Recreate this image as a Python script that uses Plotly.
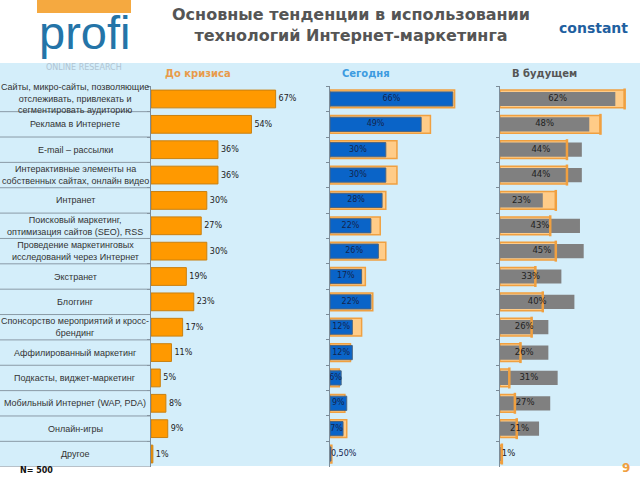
import plotly.graph_objects as go

categories = [
    "Сайты, микро-сайты, позволяющие<br>отслеживать, привлекать и<br>сегментировать аудиторию",
    "Реклама в Интернете",
    "E-mail – рассылки",
    "Интерактивные элементы на<br>собственных сайтах, онлайн видео",
    "Интранет",
    "Поисковый маркетинг,<br>оптимизация сайтов (SEO), RSS",
    "Проведение маркетинговых<br>исследований через Интернет",
    "Экстранет",
    "Блоггинг",
    "Спонсорство мероприятий и кросс-<br>брендинг",
    "Аффилированный маркетинг",
    "Подкасты, виджет-маркетинг",
    "Мобильный Интернет (WAP, PDA)",
    "Онлайн-игры",
    "Другое",
]
before_crisis = [67, 54, 36, 36, 30, 27, 30, 19, 23, 17, 11, 5, 8, 9, 1]
today = [66, 49, 30, 30, 28, 22, 26, 17, 22, 12, 12, 6, 9, 7, 0.5]
today_labels = ["66%", "49%", "30%", "30%", "28%", "22%", "26%", "17%", "22%",
                "12%", "12%", "6%", "9%", "7%", "0,50%"]
future = [62, 48, 44, 44, 23, 43, 45, 33, 40, 26, 26, 31, 27, 21, 1]

panel_titles = ["До кризиса", "Сегодня", "В будущем"]

W, H = 640, 480
ORANGE = "#FF9900"
LIGHT_OR = "#FFCC88"
OR_LINE = "#F0A040"
BLUE = "#0A64C8"
GRAY = "#808080"
N = len(categories)

fig = go.Figure()

# panel 1
fig.add_trace(go.Bar(
    y=categories, x=before_crisis, orientation="h", width=0.7,
    marker=dict(color=ORANGE, line=dict(color="#C98010", width=1)),
    text=[f"{v}%" for v in before_crisis], textposition="outside",
    textfont=dict(family="DejaVu Sans", size=8, color="#222"),
    cliponaxis=False, xaxis="x", yaxis="y", hoverinfo="skip"))

# panel 2
fig.add_trace(go.Bar(
    y=categories, x=before_crisis, orientation="h", width=0.7,
    marker=dict(color=LIGHT_OR, line=dict(color=OR_LINE, width=1.5)),
    xaxis="x2", yaxis="y2", hoverinfo="skip"))
fig.add_trace(go.Bar(
    y=categories, x=today, orientation="h", width=0.56,
    marker=dict(color=BLUE, line=dict(color="#4A6480", width=1)),
    xaxis="x2", yaxis="y2", hoverinfo="skip"))
fig.add_trace(go.Scatter(
    y=categories, x=[v if v < 3 else v / 2 for v in today], mode="text",
    text=today_labels,
    textposition=["middle right" if v < 3 else "middle center" for v in today],
    textfont=dict(family="DejaVu Sans", size=8, color="#13254F"),
    cliponaxis=False, xaxis="x2", yaxis="y2", hoverinfo="skip"))

# panel 3
fig.add_trace(go.Bar(
    y=categories, x=before_crisis, orientation="h", width=0.7,
    marker=dict(color=LIGHT_OR, line=dict(color=OR_LINE, width=1.5)),
    xaxis="x3", yaxis="y3", hoverinfo="skip"))
fig.add_trace(go.Bar(
    y=categories, x=future, orientation="h", width=0.56,
    marker=dict(color=GRAY, line=dict(width=0)),
    xaxis="x3", yaxis="y3", hoverinfo="skip"))
fig.add_trace(go.Scatter(
    y=categories, x=before_crisis, mode="markers",
    marker=dict(symbol="line-ns", size=15, line=dict(color=OR_LINE, width=2.5)),
    cliponaxis=False, xaxis="x3", yaxis="y3", hoverinfo="skip"))
fig.add_trace(go.Scatter(
    y=categories, x=[v if v < 3 else v / 2 for v in future], mode="text",
    text=[f"{v}%" for v in future],
    textposition=["middle right" if v < 3 else "middle center" for v in future],
    textfont=dict(family="DejaVu Sans", size=8.5, color="#222"),
    cliponaxis=False, xaxis="x3", yaxis="y3", hoverinfo="skip"))

y_top = 1 - 86.3 / H
y_bot = 1 - 466.7 / H
px_per = 1.86

def xax(x0, x1):
    return dict(domain=[x0 / W, x1 / W], range=[0, (x1 - x0) / px_per],
                visible=False, fixedrange=True)

def yax(anchor):
    return dict(domain=[y_bot, y_top], type="category", categoryarray=categories,
                categoryorder="array", range=[N - 0.5, -0.5], anchor=anchor,
                showticklabels=False,
                showline=True, linecolor="#7C8C98", linewidth=1,
                ticks="outside", ticklen=3, tickcolor="#7C8C98",
                tickson="boundaries", showgrid=False, zeroline=False,
                fixedrange=True)

fig.update_layout(
    width=W, height=H, margin=dict(l=0, r=0, t=0, b=0),
    paper_bgcolor="white", plot_bgcolor="rgba(0,0,0,0)",
    barmode="overlay", showlegend=False, bargap=0.3,
    xaxis=xax(151, 320), xaxis2=xax(330, 490), xaxis3=xax(500, 640),
    yaxis=yax("x"), yaxis2=yax("x2"), yaxis3=yax("x3"),
)

shapes = [
    dict(type="rect", xref="paper", yref="paper", x0=0, x1=1,
         y0=1 - 466 / H, y1=1 - 63 / H, fillcolor="#D4EEFA", line=dict(width=0),
         layer="below"),
    dict(type="rect", xref="paper", yref="paper", x0=37 / W, x1=131 / W,
         y0=1 - 13 / H, y1=1, fillcolor="#F5A940", line=dict(width=0)),
]
for i in range(N):
    shapes.append(dict(type="line", xref="paper", yref="y", x0=0, x1=150 / W,
                       y0=i + 0.5, y1=i + 0.5, line=dict(color="#8A9AA6", width=1)))
fig.update_layout(shapes=shapes)

ann = []
for c in categories:
    ann.append(dict(xref="paper", yref="y", x=75 / W, y=c, text=c, showarrow=False,
                    font=dict(family="Liberation Sans", size=9, color="#333"),
                    align="center", xanchor="center", yanchor="middle"))

ann += [
    dict(xref="paper", yref="paper", x=351 / W, y=1 - 25 / H,
         text="Основные тенденции в использовании<br>технологий Интернет-маркетинга",
         showarrow=False, align="center", xanchor="center", yanchor="middle",
         font=dict(family="DejaVu Sans", size=16, color="#555555", weight="bold")),
    dict(xref="paper", yref="paper", x=630 / W, y=1 - 28 / H, text="constant",
         showarrow=False, xanchor="right", yanchor="middle",
         font=dict(family="DejaVu Sans", size=14, color="#1F5FA0", weight="bold")),
    dict(xref="paper", yref="paper", x=84 / W, y=1 - 33 / H, text="profi",
         showarrow=False, xanchor="center", yanchor="middle",
         font=dict(family="Liberation Sans", size=47, color="#2474A8")),
    dict(xref="paper", yref="paper", x=84 / W, y=1 - 67 / H, text="ONLINE RESEARCH",
         showarrow=False, xanchor="center", yanchor="middle",
         font=dict(family="DejaVu Sans", size=8, color="#B0C4D2")),
    dict(xref="paper", yref="paper", x=198 / W, y=1 - 73 / H, text=panel_titles[0],
         showarrow=False, xanchor="center", yanchor="middle",
         font=dict(family="DejaVu Sans", size=10, color="#E89B4A", weight="bold")),
    dict(xref="paper", yref="paper", x=366 / W, y=1 - 73 / H, text=panel_titles[1],
         showarrow=False, xanchor="center", yanchor="middle",
         font=dict(family="DejaVu Sans", size=10, color="#3D9BE0", weight="bold")),
    dict(xref="paper", yref="paper", x=544 / W, y=1 - 73 / H, text=panel_titles[2],
         showarrow=False, xanchor="center", yanchor="middle",
         font=dict(family="DejaVu Sans", size=10, color="#555555", weight="bold")),
    dict(xref="paper", yref="paper", x=18 / W, y=1 - 470 / H, text="N= 500",
         showarrow=False, xanchor="left", yanchor="middle",
         font=dict(family="DejaVu Sans", size=8, color="#111", weight="bold")),
    dict(xref="paper", yref="paper", x=632 / W, y=1 - 468 / H, text="9",
         showarrow=False, xanchor="right", yanchor="middle",
         font=dict(family="DejaVu Sans", size=12, color="#F0A040", weight="bold")),
]
fig.update_layout(annotations=ann)

fig.write_html("out.html")
